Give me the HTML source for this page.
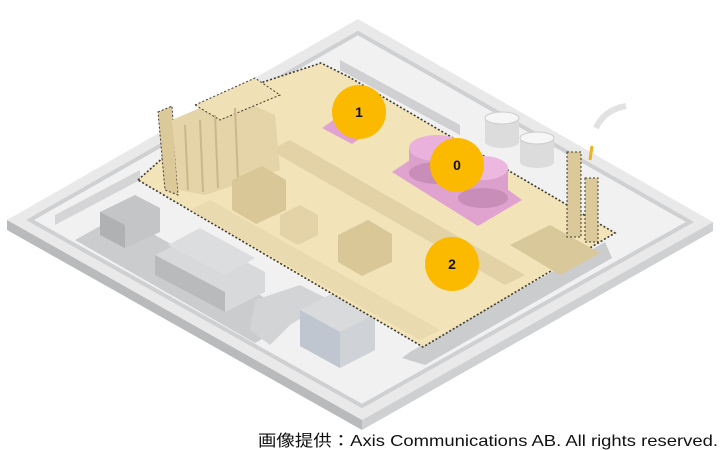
<!DOCTYPE html>
<html><head><meta charset="utf-8"><style>
html,body{margin:0;padding:0;background:#fff;width:720px;height:450px;overflow:hidden}
</style></head><body>
<svg width="720" height="450" viewBox="0 0 720 450" xmlns="http://www.w3.org/2000/svg">
<!-- base slab -->
<polygon points="7,220 358,19 713,222 362,420" fill="#e9e9ea"/>
<polygon points="7,220 362,420 362,430 7,230" fill="#b9babc"/>
<polygon points="362,420 713,222 713,231 362,430" fill="#cfd0d2"/>
<polygon points="30,220 358,33 690,222 362,406" fill="#f1f1f2" stroke="#cfd0d2" stroke-width="4"/>
<!-- roads -->
<polygon points="75,240 120,215 300,318 255,343" fill="#cbccce"/>
<polygon points="410,352 605,242 612,258 425,365 402,358" fill="#cbccce"/>
<polygon points="255,300 300,285 330,300 290,325 270,345 250,330" fill="#d3d4d5"/>
<!-- buildings bottom-left -->
<polygon points="100,212 135,195 160,208 160,232 125,248 100,235" fill="#c4c5c7"/>
<polygon points="100,212 125,225 125,248 100,235" fill="#b0b1b3"/>
<polygon points="155,255 195,235 265,272 265,292 225,312 155,275" fill="#d8d9db"/>
<polygon points="155,255 225,292 225,312 155,275" fill="#b9babc"/>
<polygon points="168,245 200,228 255,258 225,275" fill="#dcdddf"/>
<polygon points="300,310 335,292 375,314 375,350 340,368 300,346" fill="#d9dadc"/>
<polygon points="300,310 340,332 340,368 300,346" fill="#bfc6d0"/>
<polygon points="340,332 375,314 375,350 340,368" fill="#cfd2d6"/>
<!-- right tanks -->
<rect x="485" y="118" width="34" height="24" fill="#dcdcdd"/>
<ellipse cx="502" cy="142" rx="17" ry="6" fill="#dcdcdd"/>
<ellipse cx="502" cy="118" rx="17" ry="6" fill="#f6f6f6" stroke="#ccc"/>
<rect x="520" y="138" width="34" height="24" fill="#dcdcdd"/>
<ellipse cx="537" cy="162" rx="17" ry="6" fill="#dcdcdd"/>
<ellipse cx="537" cy="138" rx="17" ry="6" fill="#f6f6f6" stroke="#ccc"/>
<path d="M596,128 q8,-18 30,-22" stroke="#e2e2e2" stroke-width="6" fill="none"/>
<!-- fences -->
<polygon points="340,60 460,125 460,135 340,70" fill="#d0d0d2"/>
<polygon points="55,215 140,170 140,180 55,225" fill="#d5d5d7"/>
<!-- beige zone -->
<polygon points="138,180 239,90 321,63 349,77 615,233 423,347" fill="#f2e3b8" stroke="#3d3a30" stroke-width="1.6" stroke-dasharray="2,2"/>
<!-- walkways -->
<polygon points="270,150 290,140 525,275 505,285" fill="#e2d2a6"/>
<polygon points="190,210 210,200 440,330 420,340" fill="#e6d6ab" opacity=".7"/>
<polygon points="510,245 550,225 600,253 560,275" fill="#d8c89a"/>
<!-- towers left -->
<polygon points="158,112 172,106 178,195 165,190" fill="#dcc99a" stroke="#3d3a30" stroke-width="1" stroke-dasharray="2,2"/>
<polygon points="172,120 230,95 275,115 280,170 205,195 178,190" fill="#e4d4a8"/>
<polygon points="195,105 255,78 280,95 220,120" fill="#efe0b5" stroke="#3d3a30" stroke-width="1" stroke-dasharray="2,2"/>
<g stroke="#cbb888" stroke-width="2"><line x1="185" y1="125" x2="188" y2="190"/><line x1="200" y1="120" x2="203" y2="192"/><line x1="215" y1="115" x2="218" y2="188"/><line x1="235" y1="108" x2="238" y2="180"/></g>
<!-- structures -->
<polygon points="232,180 262,166 286,180 286,210 256,224 232,210" fill="#d9c798"/>
<polygon points="338,235 368,220 392,234 392,262 362,276 338,262" fill="#d9c798"/>
<polygon points="280,215 300,205 318,215 318,235 298,245 280,235" fill="#e4d3a6"/>
<!-- pink areas -->
<polygon points="322,128 345,112 375,128 352,144" fill="#e0a3d0"/>
<polygon points="392,172 440,140 522,200 478,226" fill="#e0a3d0"/>
<rect x="409" y="148" width="56" height="25" fill="#dba0cc"/>
<ellipse cx="437" cy="173" rx="28" ry="11" fill="#c98dba"/>
<ellipse cx="437" cy="148" rx="28" ry="13" fill="#eab1dc"/>
<rect x="458" y="168" width="50" height="28" fill="#dba0cc"/>
<ellipse cx="483" cy="198" rx="25" ry="10" fill="#c98dba"/>
<ellipse cx="483" cy="168" rx="25" ry="12" fill="#edb8df"/>
<!-- right stacks -->
<rect x="567" y="152" width="14" height="85" fill="#dcc99a" stroke="#3d3a30" stroke-width="1" stroke-dasharray="2,2"/>
<rect x="585" y="178" width="13" height="64" fill="#dcc99a" stroke="#3d3a30" stroke-width="1" stroke-dasharray="2,2"/>
<path d="M590,160 l2,-14" stroke="#f0b020" stroke-width="3"/>
<!-- markers -->
<g font-family="Liberation Sans, sans-serif" font-weight="bold" font-size="14" text-anchor="middle" fill="#111">
<circle cx="359" cy="112" r="27" fill="#fbb900"/><text x="359" y="117">1</text>
<circle cx="457" cy="165" r="27" fill="#fbb900"/><text x="457" y="170">0</text>
<circle cx="452" cy="264" r="27" fill="#fbb900"/><text x="452" y="269">2</text>
</g>
<text x="258" y="446" font-family="Liberation Sans Narrow, Liberation Sans, Noto Sans CJK JP, sans-serif" font-size="16" fill="#111" textLength="460" lengthAdjust="spacingAndGlyphs">画像提供：Axis Communications AB. All rights reserved.</text>
</svg>
</body></html>
